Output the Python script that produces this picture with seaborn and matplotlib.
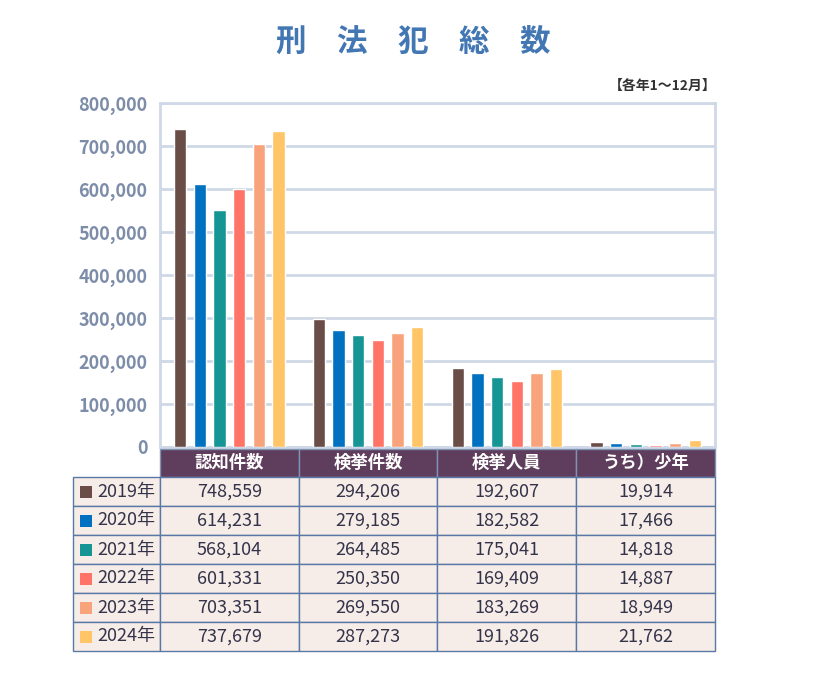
import numpy as np
import pandas as pd
import matplotlib
matplotlib.use("Agg")
import matplotlib.pyplot as plt
from matplotlib.patches import Rectangle
from matplotlib.ticker import FuncFormatter
import seaborn as sns

sns.set_style('white')
plt.rcParams['font.family'] = ['Noto Sans CJK JP', 'DejaVu Sans']

# ── data ─────────────────────────────────────────────────────────────
categories = ['認知件数', '検挙件数', '検挙人員', 'うち）少年']
years = ['2019年', '2020年', '2021年', '2022年', '2023年', '2024年']
colors = ['#6b4d48', '#0070c0', '#169595', '#ff7466', '#f9a37c', '#ffc566']

# bar heights as drawn in the chart
bar_ninchi = [740000, 611000, 552000, 601000, 704000, 736000]
bar_kenkyo = [297000, 271000, 260000, 248000, 264000, 280000]
bar_jinin = [183000, 171000, 162000, 154000, 171000, 182000]
bar_shonen = [11600, 9300, 6200, 4000, 9300, 15500]

# figures printed in the table
tbl_ninchi = [748559, 614231, 568104, 601331, 703351, 737679]
tbl_kenkyo = [294206, 279185, 264485, 250350, 269550, 287273]
tbl_jinin = [192607, 182582, 175041, 169409, 183269, 191826]
tbl_shonen = [19914, 17466, 14818, 14887, 18949, 21762]

yticks = [0, 100000, 200000, 300000, 400000, 500000, 600000, 700000, 800000]

bars = [bar_ninchi, bar_kenkyo, bar_jinin, bar_shonen]
table_vals = [tbl_ninchi, tbl_kenkyo, tbl_jinin, tbl_shonen]

df = pd.DataFrame([
    {'cat': c, 'year': y, 'value': v}
    for c, series in zip(categories, bars)
    for y, v in zip(years, series)
])

# ── figure ───────────────────────────────────────────────────────────
W, H = 820, 675
fig = plt.figure(figsize=(W / 100, H / 100), dpi=100)
fig.patch.set_facecolor('white')

x0, x1, y_top, y_bot = 160, 715, 103, 447
ax = fig.add_axes([x0 / W, 1 - y_bot / H, (x1 - x0) / W, (y_bot - y_top) / H])

grid_c = '#cfd8e6'
sns.barplot(data=df, x='cat', y='value', hue='year', order=categories,
            hue_order=years, palette=colors, width=0.85, gap=0.37,
            saturation=1, legend=False, ax=ax, zorder=3)
ax.set_xlim(-0.5, 3.5)
ax.set_ylim(0, 800000)
ax.set_yticks(yticks)
ax.yaxis.set_major_formatter(FuncFormatter(lambda v, p: f'{int(v):,}'))
ax.yaxis.grid(True, color=grid_c, lw=2)
ax.set_axisbelow(True)
ax.set_xticks([])
ax.set_xlabel('')
ax.set_ylabel('')
ax.tick_params(axis='y', length=0, pad=9, labelsize=13, labelcolor='#7d8da9')
for lbl in ax.get_yticklabels():
    lbl.set_fontweight('bold')
for s in ax.spines.values():
    s.set_color(grid_c)
    s.set_linewidth(2)

# ── title ────────────────────────────────────────────────────────────
fig.text(413 / W, 1 - 42 / H, '刑　法　犯　総　数', ha='center', va='center',
         fontsize=22, fontweight='bold', color='#4377b3')
fig.text(717 / W, 1 - 86 / H, '【各年1～12月】', ha='right', va='center',
         fontsize=10, fontweight='bold', color='#333333')

# ── table ────────────────────────────────────────────────────────────
tax = fig.add_axes([0, 0, 1, 1])
tax.set_xlim(0, W)
tax.set_ylim(H, 0)
tax.axis('off')

col_w = (x1 - x0) / len(categories)
col_edges = [x0 + i * col_w for i in range(len(categories) + 1)]
left = 73
head_top, head_bot = 449, 477
row_h = 29
border = '#5a78a6'
cell_bg = '#f7ede8'
head_bg = '#5f3d5c'

for i, cat in enumerate(categories):
    cx = col_edges[i]
    tax.add_patch(Rectangle((cx, head_top), col_w, head_bot - head_top,
                            facecolor=head_bg, edgecolor='#7e93b4', lw=1))
    tax.text(cx + col_w / 2, (head_top + head_bot) / 2, cat, ha='center',
             va='center', color='white', fontsize=12.5, fontweight='bold')

for r, yr in enumerate(years):
    ry = head_bot + r * row_h
    tax.add_patch(Rectangle((left, ry), x0 - left, row_h,
                            facecolor=cell_bg, edgecolor=border, lw=1))
    tax.add_patch(Rectangle((80, ry + row_h / 2 - 6), 12, 12,
                            facecolor=colors[r], edgecolor='none'))
    tax.text(97, ry + row_h / 2, yr, ha='left', va='center',
             fontsize=13, color='#33334a')
    for i in range(len(categories)):
        cx = col_edges[i]
        tax.add_patch(Rectangle((cx, ry), col_w, row_h,
                                facecolor=cell_bg, edgecolor=border, lw=1))
        tax.text(cx + col_w / 2, ry + row_h / 2, f'{table_vals[i][r]:,}',
                 ha='center', va='center', fontsize=13, color='#33334a')

fig.savefig('out.png', dpi=100, facecolor='white')
plt.close(fig)
